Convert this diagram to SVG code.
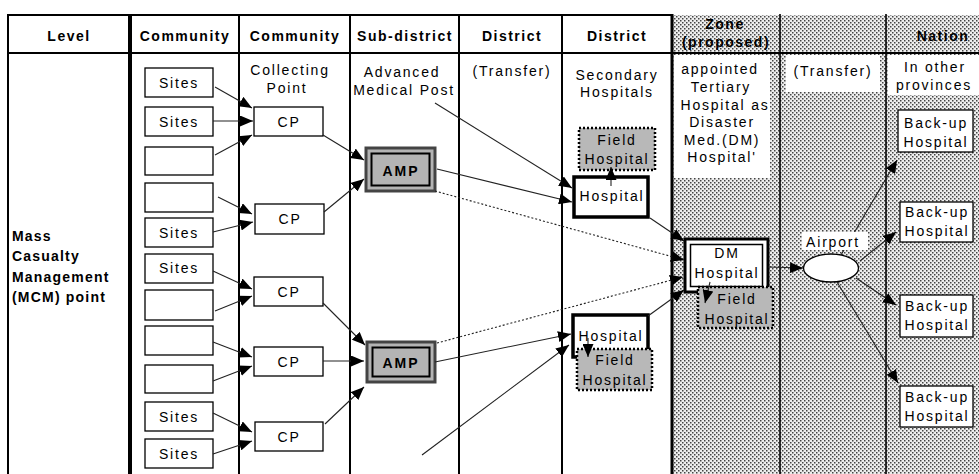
<svg xmlns="http://www.w3.org/2000/svg" width="979" height="474" viewBox="0 0 979 474">
<defs>
<pattern id="dots" width="4" height="4" patternUnits="userSpaceOnUse">
<rect width="4" height="4" fill="#eeeeee"/>
<rect x="0" y="0" width="1.5" height="1.5" fill="#444"/>
<rect x="2" y="2" width="1.5" height="1.5" fill="#444"/>
</pattern>
<marker id="ah" markerWidth="13" markerHeight="11" viewBox="0 0 13 11" refX="13" refY="5.5" orient="auto" markerUnits="userSpaceOnUse">
<path d="M0,0 L13,5.5 L0,11 z" fill="#000"/>
</marker>
<marker id="ahs" markerWidth="10" markerHeight="9" viewBox="0 0 10 9" refX="10" refY="4.5" orient="auto" markerUnits="userSpaceOnUse">
<path d="M0,0 L10,4.5 L0,9 z" fill="#000"/>
</marker>
</defs>
<style>
.hd{font-family:"Liberation Sans",Arial,sans-serif;font-weight:bold;font-size:14px;letter-spacing:1.5px;fill:#000;text-anchor:middle}
.t{font-family:"Liberation Sans",Arial,sans-serif;font-size:14px;letter-spacing:1.8px;fill:#000;text-anchor:middle}
.tb{font-family:"Liberation Sans",Arial,sans-serif;font-weight:bold;font-size:14px;letter-spacing:1.2px;fill:#000}
.grid{stroke:#000;fill:none}
.box{fill:#fff;stroke:#000;stroke-width:1.3}
.hosp{fill:#fff;stroke:#000;stroke-width:3.5}
.field{fill:#b8b8b8;stroke:#000;stroke-width:2.5;stroke-dasharray:2 2}
.amp-o{fill:#b4b4b4;stroke:#444;stroke-width:3}
.amp-i{fill:none;stroke:#000;stroke-width:2}
.c{stroke:#222;stroke-width:1.1;fill:none;marker-end:url(#ah)}
.cd{stroke:#222;stroke-width:1.1;fill:none;stroke-dasharray:2 2;marker-end:url(#ah)}
.ampt{font-family:"Liberation Sans",Arial,sans-serif;font-weight:bold;font-size:14px;letter-spacing:2px;fill:#000;text-anchor:middle}
</style>

<g id="table">
<rect x="672" y="15" width="307" height="459" fill="url(#dots)"/>
<rect x="674" y="55" width="96" height="123" fill="#fff"/>
<rect x="786" y="55" width="94" height="37" fill="#fff"/>
<rect x="888" y="55" width="91" height="40" fill="#fff"/>
<line class="grid" x1="8" y1="15" x2="672" y2="15" stroke-width="2"/>
<line class="grid" x1="8" y1="53" x2="979" y2="53" stroke-width="2"/>
<line class="grid" x1="8" y1="14" x2="8" y2="474" stroke-width="2"/>
<line class="grid" x1="130" y1="14" x2="130" y2="474" stroke-width="4"/>
<line class="grid" x1="239" y1="14" x2="239" y2="474" stroke-width="2"/>
<line class="grid" x1="350" y1="14" x2="350" y2="474" stroke-width="2"/>
<line class="grid" x1="459" y1="14" x2="459" y2="474" stroke-width="2"/>
<line class="grid" x1="562" y1="14" x2="562" y2="474" stroke-width="2"/>
<line class="grid" x1="672" y1="14" x2="672" y2="474" stroke-width="3"/>
<line class="grid" x1="780" y1="14" x2="780" y2="474" stroke-width="1.6"/>
<line class="grid" x1="886" y1="14" x2="886" y2="474" stroke-width="1.6"/>
</g>

<g id="headers">
<text class="hd" x="69" y="41">Level</text>
<text class="hd" x="185" y="41">Community</text>
<text class="hd" x="295" y="41">Community</text>
<text class="hd" x="405" y="41">Sub-district</text>
<text class="hd" x="512" y="41">District</text>
<text class="hd" x="617" y="41">District</text>
<text class="hd" x="725" y="29">Zone</text>
<text class="hd" x="726" y="47">(proposed)</text>
<text class="hd" x="943" y="41">Nation</text>
</g>

<g id="mcm-label">
<text class="tb" x="12" y="241">Mass</text>
<text class="tb" x="12" y="261">Casualty</text>
<text class="tb" x="12" y="282">Management</text>
<text class="tb" x="12" y="302">(MCM) point</text>
</g>

<g id="column-labels">
<text class="t" x="290" y="75">Collecting</text>
<text class="t" x="287" y="93">Point</text>
<text class="t" x="402" y="77">Advanced</text>
<text class="t" x="404" y="95">Medical Post</text>
<text class="t" x="512" y="76">(Transfer)</text>
<text class="t" x="617" y="80">Secondary</text>
<text class="t" x="617" y="97">Hospitals</text>
<text class="t" x="720" y="74">appointed</text>
<text class="t" x="721" y="92">Tertiary</text>
<text class="t" x="725" y="110">Hospital as</text>
<text class="t" x="722" y="127">Disaster</text>
<text class="t" x="722" y="145">Med.(DM)</text>
<text class="t" x="722" y="162">Hospital'</text>
<text class="t" x="833" y="76">(Transfer)</text>
<text class="t" x="935" y="72">In other</text>
<text class="t" x="934" y="90">provinces</text>
</g>

<g id="sites">
<rect class="box" x="145" y="68" width="68" height="29"/><text class="t" x="179" y="88">Sites</text>
<rect class="box" x="145" y="107" width="68" height="29"/><text class="t" x="179" y="127">Sites</text>
<rect class="box" x="145" y="147" width="68" height="28"/>
<rect class="box" x="145" y="183" width="68" height="29"/>
<rect class="box" x="145" y="218" width="68" height="29"/><text class="t" x="179" y="238">Sites</text>
<rect class="box" x="145" y="254" width="68" height="29"/><text class="t" x="179" y="273">Sites</text>
<rect class="box" x="145" y="290" width="68" height="30"/>
<rect class="box" x="145" y="326" width="68" height="29"/>
<rect class="box" x="145" y="365" width="68" height="28"/>
<rect class="box" x="145" y="402" width="68" height="29"/><text class="t" x="179" y="422">Sites</text>
<rect class="box" x="145" y="439" width="68" height="29"/><text class="t" x="179" y="459">Sites</text>
</g>

<g id="cp">
<rect class="box" x="254" y="107" width="69" height="29"/><text class="t" x="289" y="127">CP</text>
<rect class="box" x="255" y="204" width="69" height="30"/><text class="t" x="290" y="224">CP</text>
<rect class="box" x="254" y="277" width="69" height="29"/><text class="t" x="289" y="297">CP</text>
<rect class="box" x="254" y="347" width="69" height="29"/><text class="t" x="289" y="367">CP</text>
<rect class="box" x="255" y="422" width="68" height="29"/><text class="t" x="289" y="442">CP</text>
</g>

<g id="amp1">
<rect class="amp-o" x="366" y="148" width="69" height="43"/>
<rect class="amp-i" x="371.5" y="153.5" width="58" height="32"/>
<text class="ampt" x="401" y="176">AMP</text>
</g>
<g id="amp2">
<rect class="amp-o" x="367" y="342" width="68" height="40"/>
<rect class="amp-i" x="372.5" y="347.5" width="57" height="29"/>
<text class="ampt" x="401" y="368">AMP</text>
</g>

<g id="field-hospital-1">
<rect class="field" x="579" y="128" width="76" height="42"/>
<text class="t" x="617" y="145">Field</text>
<text class="t" x="617" y="164">Hospital</text>
</g>
<g id="hospital-1">
<rect class="hosp" x="574" y="177" width="74" height="40"/>
<text class="t" x="612" y="201">Hospital</text>
</g>
<g id="hospital-2">
<rect class="hosp" x="573" y="315" width="75" height="42"/>
<text class="t" x="611" y="341">Hospital</text>
</g>
<g id="field-hospital-2">
<rect class="field" x="577" y="349" width="75" height="41"/>
<text class="t" x="615" y="365">Field</text>
<text class="t" x="615" y="385">Hospital</text>
</g>

<g id="dm-hospital">
<rect x="685" y="239" width="83" height="53" fill="#fff" stroke="#000" stroke-width="3"/>
<rect x="690.5" y="244.5" width="72" height="42" fill="none" stroke="#000" stroke-width="1.5"/>
<text class="t" x="727" y="258">DM</text>
<text class="t" x="727" y="278">Hospital</text>
</g>
<g id="field-hospital-zone">
<rect class="field" x="698" y="287" width="75" height="41"/>
<text class="t" x="737" y="304">Field</text>
<text class="t" x="737" y="324">Hospital</text>
</g>

<g id="backup-hospitals">
<rect class="box" x="898" y="110" width="75" height="42"/><text class="t" x="936" y="128">Back-up</text><text class="t" x="936" y="147">Hospital</text>
<rect class="box" x="900" y="202" width="73" height="40"/><text class="t" x="937" y="217">Back-up</text><text class="t" x="937" y="236">Hospital</text>
<rect class="box" x="900" y="295" width="73" height="42"/><text class="t" x="937" y="311">Back-up</text><text class="t" x="937" y="330">Hospital</text>
<rect class="box" x="900" y="386" width="73" height="41"/><text class="t" x="937" y="402">Back-up</text><text class="t" x="937" y="421">Hospital</text>
</g>

<g id="connectors">
<line class="c" x1="215" y1="87" x2="252" y2="108"/>
<line class="c" x1="213" y1="121" x2="253" y2="121"/>
<line class="c" x1="215" y1="155" x2="252" y2="135"/>
<line class="c" x1="218" y1="197" x2="252" y2="214"/>
<line class="c" x1="213" y1="232" x2="253" y2="222"/>
<line class="c" x1="213" y1="271" x2="252" y2="289"/>
<line class="c" x1="215" y1="311" x2="252" y2="296"/>
<line class="c" x1="213" y1="342" x2="252" y2="357"/>
<line class="c" x1="213" y1="381" x2="252" y2="366"/>
<line class="c" x1="213" y1="413" x2="252" y2="432"/>
<line class="c" x1="213" y1="454" x2="252" y2="441"/>
<line class="c" x1="323" y1="135" x2="364" y2="160"/>
<line class="c" x1="324" y1="212" x2="364" y2="179"/>
<line class="c" x1="323" y1="303" x2="365" y2="345"/>
<line class="c" x1="323" y1="361" x2="364" y2="361"/>
<line class="c" x1="325" y1="424" x2="364" y2="387"/>
<line class="c" x1="435" y1="103" x2="572" y2="188"/>
<line class="c" x1="437" y1="169" x2="572" y2="202" stroke-width="1.5"/>
<line class="c" x1="435" y1="362" x2="571" y2="334" stroke-width="1.5"/>
<line class="c" x1="422" y1="455" x2="569" y2="345"/>
<line class="c" x1="611" y1="186" x2="611" y2="167" marker-end="url(#ahs)"/>
<line class="c" x1="588" y1="338" x2="588" y2="357" marker-end="url(#ahs)"/>
<line class="c" x1="710" y1="282" x2="705" y2="303" marker-end="url(#ahs)"/>
<line class="c" x1="650" y1="218" x2="684" y2="241"/>
<line class="cd" x1="435" y1="191" x2="684" y2="260"/>
<line class="cd" x1="437" y1="343" x2="683" y2="277"/>
<line class="c" x1="648" y1="316" x2="684" y2="290"/>
<line class="c" x1="768" y1="267" x2="803" y2="268" stroke-width="1.5"/>
<line class="c" x1="841" y1="255" x2="897" y2="160"/>
<line class="c" x1="860" y1="261" x2="896" y2="232"/>
<line class="c" x1="856" y1="278" x2="896" y2="305"/>
<line class="c" x1="837" y1="282" x2="898" y2="383"/>
</g>

<g id="airport">
<ellipse cx="831" cy="268" rx="27.5" ry="14" fill="#fff" stroke="#000" stroke-width="1.3"/>
<rect x="802" y="232" width="66" height="18" fill="#fff"/>
<text class="t" x="833" y="247">Airport</text>
</g>
</svg>
